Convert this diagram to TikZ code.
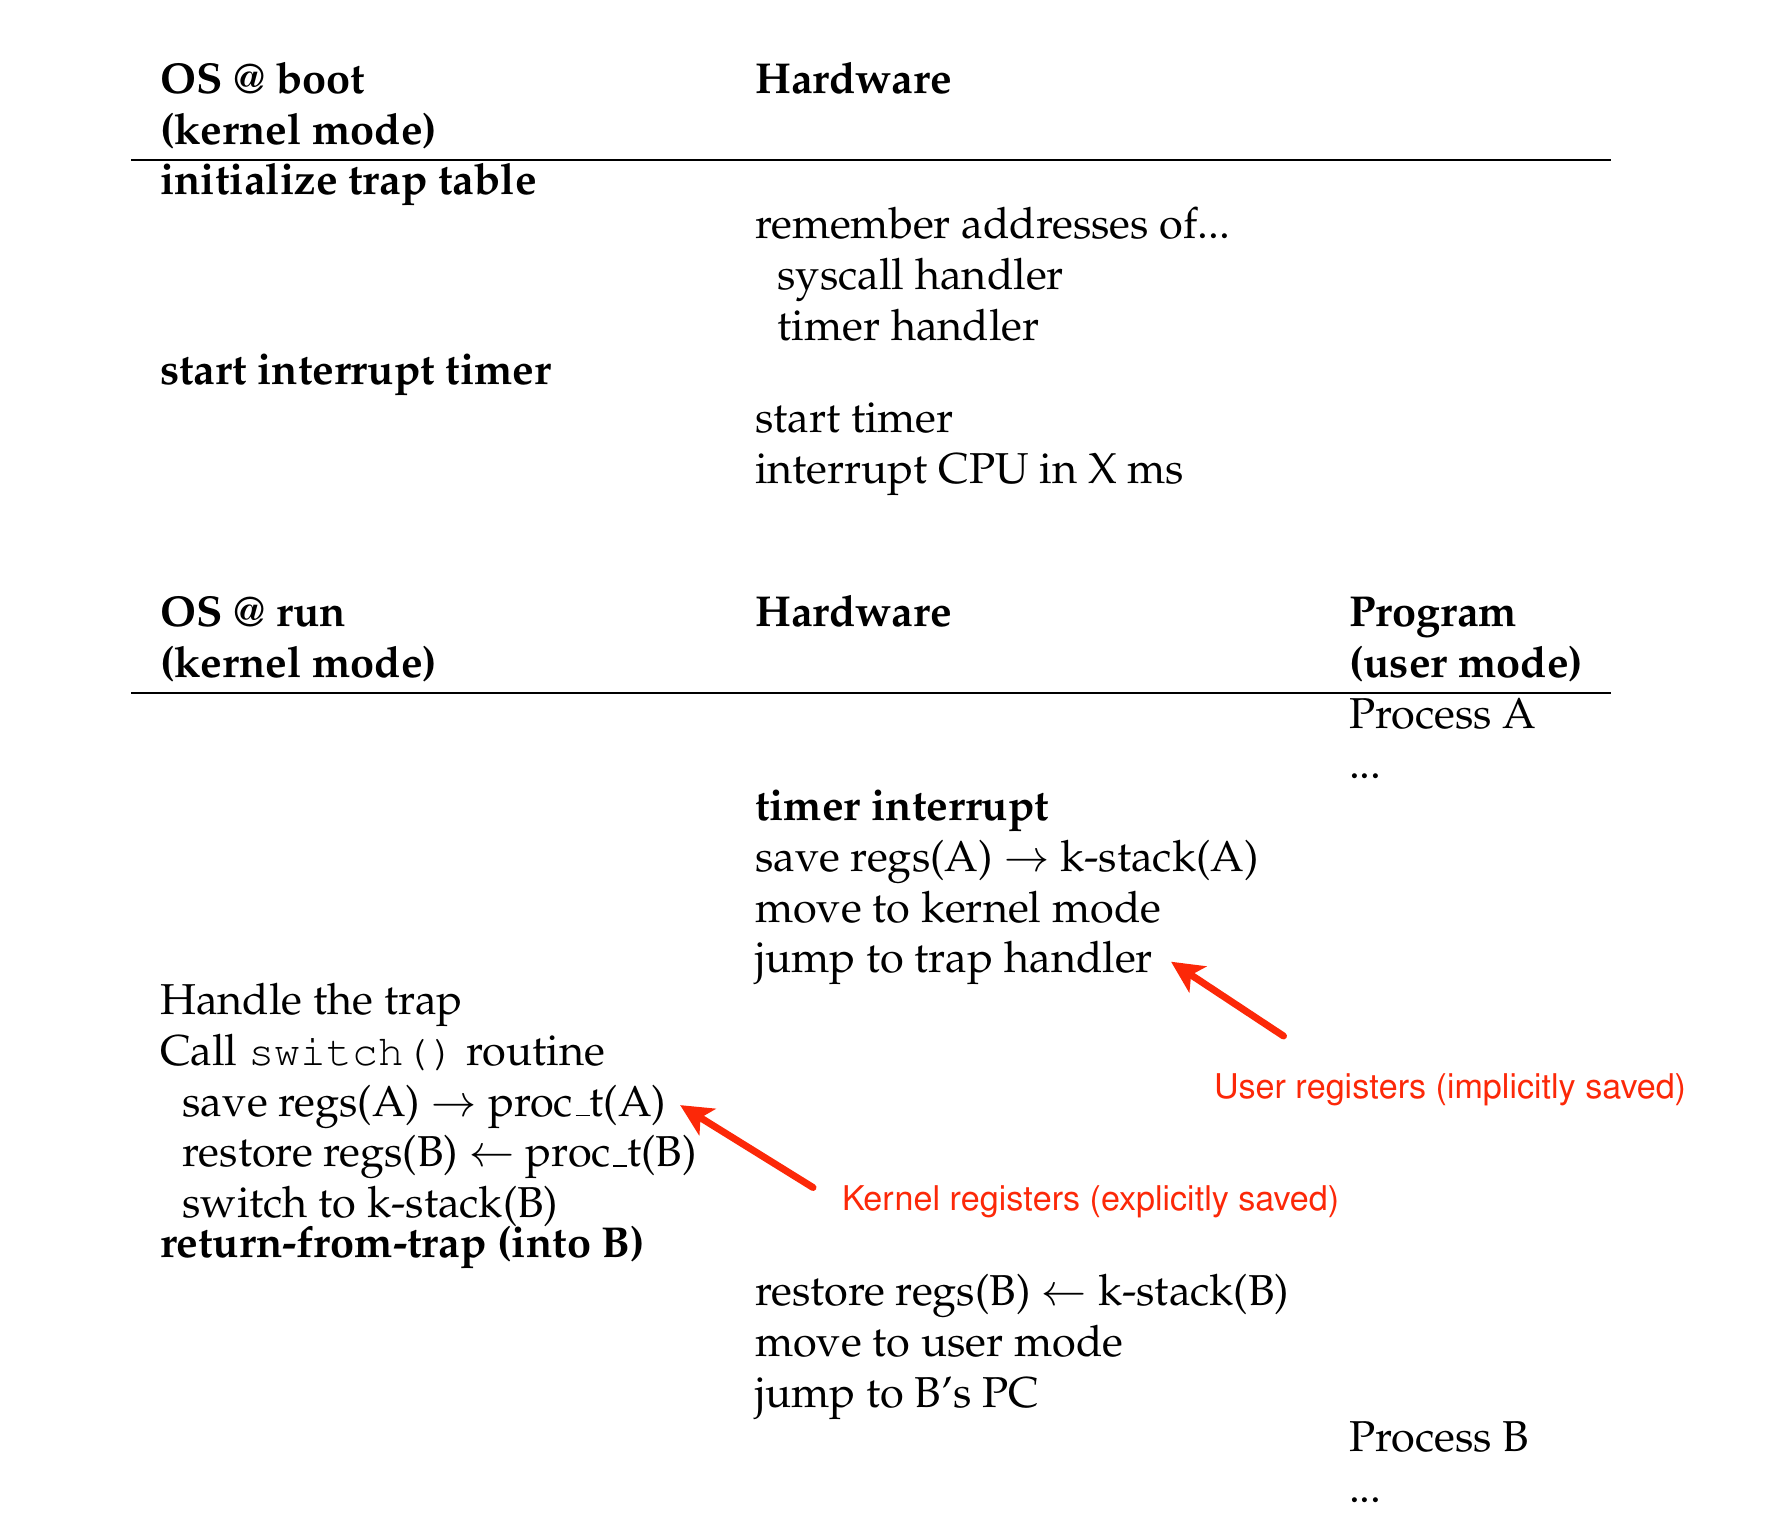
\documentclass[tikz,border=0pt]{standalone}
\usepackage[T1]{fontenc}
\usepackage{mathpazo}
\usepackage{tikz}
\usetikzlibrary{positioning}
\usetikzlibrary{arrows.meta}
\definecolor{notered}{RGB}{252,40,8}
\newcommand{\lowbar}{\kern.06em\vbox{\hrule width.32em height .45pt}}

\begin{document}
\begin{tikzpicture}[
            x = 1mm, y = -1mm, % rows counted down the page
            > = {Stealth[length=3.2mm, width=3.1mm, inset=0.8mm]}, % arrow head style
            rowafter/.style = {below=0.25mm of #1.south west, anchor=north west},
            semithick
        ]

        \tikzstyle{row}=[
            anchor = west,
            inner sep = 0pt,
            text height = 3.4mm,
            text depth = 1.2mm,
            font = \fontsize{12.3}{14}\selectfont
        ]
        \tikzstyle{head}=[row, font = \fontsize{12.3}{14}\selectfont\bfseries]
        \tikzstyle{note}=[anchor = west, inner sep = 0pt, text = notered,
            font = \fontsize{9.7}{12}\fontfamily{phv}\selectfont]
        \tikzstyle{rule}=[line width = 0.55pt]

        \useasboundingbox (0,0) rectangle (177,152.8);

        % boot time table
        \node[head] (bootos) at (15.9,8.24) {OS @ boot};
        \node[head, rowafter=bootos] (bootmode) {(kernel mode)};
        \node[head, rowafter=bootmode] (inittrap) {initialize trap table};
        \node[head] (startint) at (15.9,37.34) {start interrupt timer};

        \node[head] (boothw) at (75.4,8.24) {Hardware};
        \node[row] (remaddr) at (75.4,22.79) {remember addresses of...};
        \node[row, below right=0.25mm and 2.26mm of remaddr.south west] (sysh) {syscall handler};
        \node[row, rowafter=sysh] (timh) {timer handler};
        \node[row] (sttimer) at (75.4,42.19) {start timer};
        \node[row, rowafter=sttimer] (intcpu) {interrupt CPU in X ms};

        \coordinate (rule1w) at (13.1,16.0);
        \coordinate (rule1e) at (161.1,16.0);

        % run time table
        \node[head] (runos) at (15.9,61.59) {OS @ run};
        \node[head, rowafter=runos] (runmode) {(kernel mode)};
        \node[row] (handle) at (15.9,100.39) {Handle the trap};
        \node[row, rowafter=handle] (callsw) {Call {\fontfamily{pcr}\selectfont switch()} routine};
        \node[row, below right=0.25mm and 2.26mm of callsw.south west] (saveproc) {save regs(A) $\rightarrow$ proc\lowbar t(A)};
        \node[row, rowafter=saveproc] (restproc) {restore regs(B) $\leftarrow$ proc\lowbar t(B)};
        \node[row, rowafter=restproc] (swk) {switch to k-stack(B)};
        \node[head] (rft) at (15.9,124.64) {return-from-trap (into B)};

        \node[head] (runhw) at (75.4,61.59) {Hardware};
        \node[head] (timint) at (75.4,80.99) {timer interrupt};
        \node[row, rowafter=timint] (savek) {save regs(A) $\rightarrow$ k-stack(A)};
        \node[row, rowafter=savek] (tokern) {move to kernel mode};
        \node[row, rowafter=tokern] (jumpth) {jump to trap handler};
        \node[row] (restk) at (75.4,129.49) {restore regs(B) $\leftarrow$ k-stack(B)};
        \node[row, rowafter=restk] (touser) {move to user mode};
        \node[row, rowafter=touser] (jumpb) {jump to B's PC};

        \node[head] (prog) at (134.8,61.59) {Program};
        \node[head, rowafter=prog] (progmode) {(user mode)};
        \node[row, rowafter=progmode] (proca) {Process A};
        \node[row, rowafter=proca] (dotsa) {...};
        \node[row] (procb) at (134.8,144.04) {Process B};
        \node[row, rowafter=procb] (dotsb) {...};

        \coordinate (rule2w) at (13.1,69.3);
        \coordinate (rule2e) at (161.1,69.3);

        \draw[rule] (rule1w) -- (rule1e);
        \draw[rule] (rule2w) -- (rule2e);

        % notes on the two kinds of saved registers
        \node[note] (usernote) at (121.3,109.0) {User registers (implicitly saved)};
        \node[note] (kernnote) at (84.1,120.2) {Kernel registers (explicitly saved)};

        \coordinate (utail) at ([xshift=7.05mm, yshift=5.4mm]usernote.west);
        \coordinate (utip) at ([xshift=1.7mm]jumpth.east);
        \coordinate (ktail) at ([xshift=-2.8mm, yshift=1.45mm]kernnote.west);
        \coordinate (ktip) at ([xshift=1.3mm]saveproc.east);

        \path[->, notered, line width=0.7mm, line cap=round]
            (utail)    edge    (utip)
            (ktail)    edge    (ktip);

\end{tikzpicture}
\end{document}
